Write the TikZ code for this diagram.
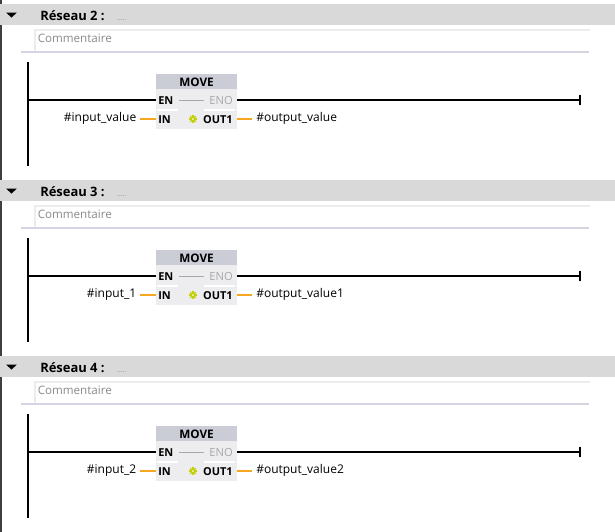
\documentclass[tikz,border=0pt]{standalone}
\usepackage{fontspec}
\setmainfont{Open Sans}
\definecolor{hdr}{HTML}{D9D9D9}
\definecolor{boxhead}{HTML}{CACCD6}
\definecolor{boxbody}{HTML}{EDEDF0}
\definecolor{pinorange}{HTML}{F5A623}
\definecolor{enogray}{HTML}{A8A8A8}
\definecolor{cmtgray}{HTML}{8A8A8A}
\definecolor{cmtline}{HTML}{D4D4E2}
\definecolor{cmtedge}{HTML}{ECECEC}
\definecolor{staryel}{HTML}{C0D000}
\begin{document}
\begin{tikzpicture}[x=0.75pt,y=-0.75pt,
  rail/.style={line width=2pt,black},
  rung/.style={line width=1.8pt,black},
  orangeline/.style={line width=1.6pt,pinorange},
  pinlbl/.style={font=\bfseries\fontsize{8.2}{9}\selectfont,inner sep=0pt},
  varlbl/.style={font=\fontsize{9}{10}\selectfont,inner sep=0pt},
  titlelbl/.style={font=\bfseries\fontsize{9.7}{11}\selectfont,inner sep=0pt},
  cmtlbl/.style={font=\fontsize{8.7}{10}\selectfont,text=cmtgray,inner sep=0pt}]
\useasboundingbox (0,0) rectangle (615,532);
\fill[white] (0,0) rectangle (615,532);
\draw[line width=1.2pt,black!75] (0.8,0) -- (0.8,532);
\foreach \o/\n/\i/\q in {0/2/\#input\_value/\#output\_value,176/3/\#input\_1/\#output\_value1,352/4/\#input\_2/\#output\_value2}{
  % header band
  \fill[hdr] (0,\o+4) rectangle (615,\o+25);
  \fill[black] (6,\o+12.5) -- (17,\o+12.5) -- (11.5,\o+17.5) -- cycle;
  \node[titlelbl,anchor=base west] (title\n) at (40,\o+20) {Réseau \n\ :};
  \node[inner sep=0pt,anchor=base west,font=\fontsize{5}{6}\selectfont,text=cmtgray] (dots\n) at (117,\o+20) {.....};
  % comment field
  \draw[cmtedge,line width=0.8pt] (35,\o+52) -- (35,\o+30) -- (590,\o+30);
  \draw[cmtline,line width=0.9pt] (21,\o+52) -- (589,\o+52);
  \node[cmtlbl,anchor=west] (cmt\n) at (37.5,\o+38.5) {Commentaire};
  % power rail
  \coordinate (railtop\n) at (28,\o+62);
  \coordinate (railbot\n) at (28,\o+166);
  \coordinate (railrung\n) at (28,\o+100);
  \draw[rail] (railtop\n) -- (railbot\n);
  % MOVE box
  \fill[boxbody] (156,\o+74) rectangle (237,\o+129);
  \fill[boxhead] (156,\o+74) rectangle (237,\o+89);
  \node[pinlbl,font=\bfseries\fontsize{8.8}{9}\selectfont] (move\n) at (196.5,\o+82) {MOVE};
  \coordinate (enin\n) at (156,\o+100);
  \coordinate (enoout\n) at (237,\o+100);
  \node[pinlbl,anchor=west] (en\n) at (158,\o+100.5) {EN};
  \node[pinlbl,anchor=east,text=enogray,font=\fontsize{8.4}{9}\selectfont] (eno\n) at (233,\o+100.5) {ENO};
  \draw[enogray,line width=0.6pt] (en\n.east) ++(5,0) coordinate (enl\n) (eno\n.west) ++(-5,0) coordinate (enr\n);
  \draw[enogray,line width=0.6pt] (enl\n) -- (enr\n);
  \draw[white,line width=1pt] (157,\o+110) -- (178,\o+110);
  \draw[white,line width=1pt] (204,\o+110) -- (235,\o+110);
  \node[pinlbl,anchor=west] (in\n) at (158,\o+120) {IN};
  \node[pinlbl,anchor=east] (out\n) at (233,\o+120) {OUT1};
  \coordinate (inpin\n) at (156,\o+119);
  \coordinate (outpin\n) at (237,\o+119);
  % star
  \coordinate (star\n) at (193,\o+119);
  \foreach \a in {0,45,...,315}{\draw[staryel,line width=0.9pt] (star\n) ++(\a:1.2) -- ++(\a:2.8);}
  \fill[staryel!50!white] (star\n) circle (1.2);
  % rung
  \coordinate (rungend\n) at (580,\o+100);
  \draw[rung] (railrung\n) -- (enin\n);
  \draw[rung] (enoout\n) -- (rungend\n);
  \draw[line width=1.5pt] (580,\o+95) -- (580,\o+105);
  % variables
  \node[varlbl,anchor=east] (ivar\n) at (136.5,\o+118.5) {\i};
  \node[varlbl,anchor=west] (ovar\n) at (256,\o+118.5) {\q};
  \draw[orangeline] (ivar\n.east) ++(3.5,0.5) coordinate (ia\n);
  \draw[orangeline] (ia\n) -- (inpin\n);
  \coordinate (ob\n) at (252,\o+119);
  \draw[orangeline] (outpin\n) -- (ob\n);
}
\end{tikzpicture}
\end{document}
